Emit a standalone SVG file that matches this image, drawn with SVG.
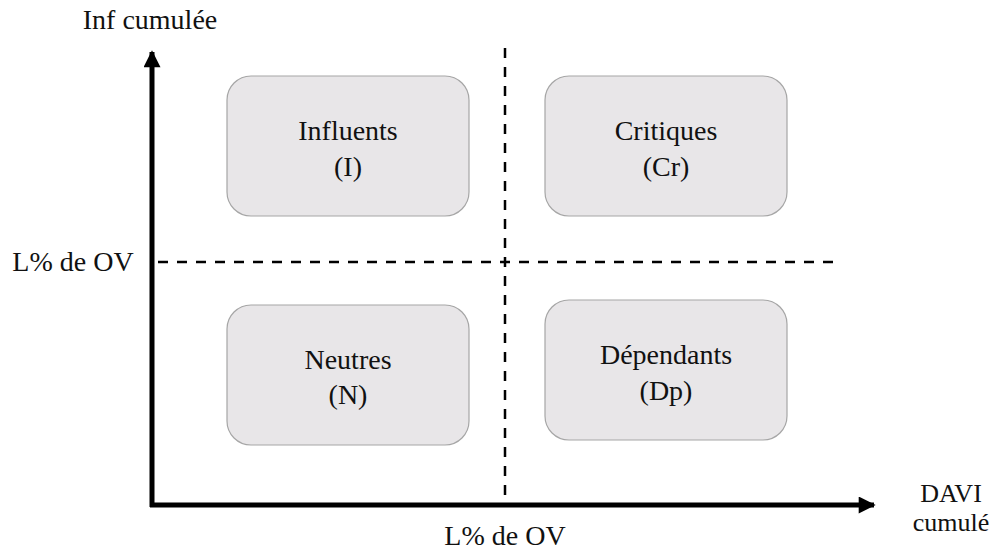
<svg xmlns="http://www.w3.org/2000/svg" width="990" height="551" viewBox="0 0 990 551">
<defs>
<style>
text{font-family:"Liberation Serif","Times New Roman",serif;font-size:28px;fill:#111;}
.box{fill:#e8e6e8;stroke:#a6a6a6;stroke-width:1.2;}
.axis{stroke:#000;stroke-width:5;fill:none;}
.dash{stroke:#000;stroke-width:2.5;stroke-dasharray:10,9;fill:none;}
.sm{font-size:26px;}
</style>
<marker id="ah" viewBox="0 0 10 10" refX="9" refY="5" markerWidth="4.4" markerHeight="3.4" markerUnits="strokeWidth" orient="auto">
<path d="M0,0 L10,5 L0,10 z" fill="#000"/>
</marker>
</defs>
<rect width="990" height="551" fill="#fff"/>
<g id="connectors">
<line class="dash" x1="505" y1="48" x2="505" y2="503"/>
<line class="dash" x1="158" y1="262" x2="840" y2="262"/>
<polyline class="axis" points="152,507 152,52" marker-end="url(#ah)"/>
<polyline class="axis" points="150,505 874,505" marker-end="url(#ah)"/>
</g>
<g id="influents">
<rect class="box" x="227" y="76" width="242" height="140" rx="24"/>
<text x="348" y="140" text-anchor="middle">Influents</text>
<text x="348" y="176" text-anchor="middle">(I)</text>
</g>
<g id="critiques">
<rect class="box" x="545" y="76" width="242" height="140" rx="24"/>
<text x="666" y="140" text-anchor="middle">Critiques</text>
<text x="666" y="176" text-anchor="middle">(Cr)</text>
</g>
<g id="neutres">
<rect class="box" x="227" y="305" width="242" height="140" rx="24"/>
<text x="348" y="369" text-anchor="middle">Neutres</text>
<text x="348" y="404" text-anchor="middle">(N)</text>
</g>
<g id="dependants">
<rect class="box" x="545" y="300" width="242" height="140" rx="24"/>
<text x="666" y="364" text-anchor="middle">Dépendants</text>
<text x="666" y="400" text-anchor="middle">(Dp)</text>
</g>
<g id="labels">
<text x="150" y="29" text-anchor="middle">Inf cumulée</text>
<text x="73" y="271" text-anchor="middle">L% de OV</text>
<text x="505" y="545" text-anchor="middle">L% de OV</text>
<text class="sm" x="951" y="502" text-anchor="middle">DAVI</text>
<text class="sm" x="951" y="531" text-anchor="middle">cumulé</text>
</g>
</svg>
